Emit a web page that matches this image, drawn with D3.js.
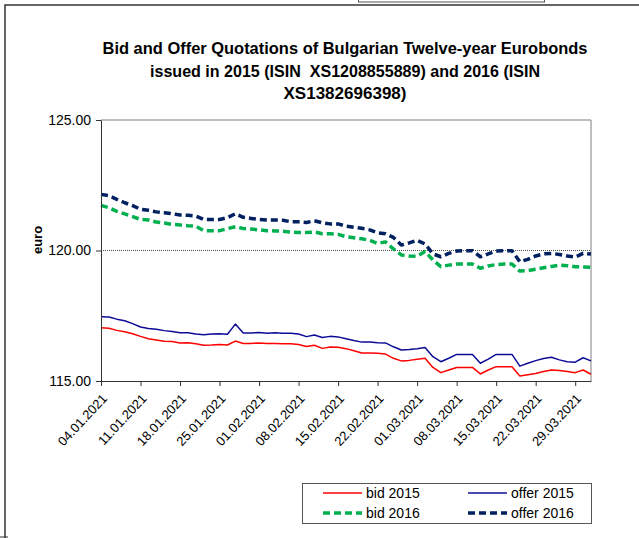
<!DOCTYPE html>
<html>
<head>
<meta charset="utf-8">
<script src="https://cdn.jsdelivr.net/npm/d3@7"></script>
<style>
  body { margin: 0; background: #fff; }
  svg { display: block; font-family: "Liberation Sans", Arial, sans-serif; }
</style>
</head>
<body>
<div id="chart"></div>
<script>
// business days, one point each
var categories = [
  '04.01.2021','05.01.2021','06.01.2021','07.01.2021','08.01.2021',
  '11.01.2021','12.01.2021','13.01.2021','14.01.2021','15.01.2021',
  '18.01.2021','19.01.2021','20.01.2021','21.01.2021','22.01.2021',
  '25.01.2021','26.01.2021','27.01.2021','28.01.2021','29.01.2021',
  '01.02.2021','02.02.2021','03.02.2021','04.02.2021','05.02.2021',
  '08.02.2021','09.02.2021','10.02.2021','11.02.2021','12.02.2021',
  '15.02.2021','16.02.2021','17.02.2021','18.02.2021','19.02.2021',
  '22.02.2021','23.02.2021','24.02.2021','25.02.2021','26.02.2021',
  '01.03.2021','02.03.2021','03.03.2021','04.03.2021','05.03.2021',
  '08.03.2021','09.03.2021','10.03.2021','11.03.2021','12.03.2021',
  '15.03.2021','16.03.2021','17.03.2021','18.03.2021','19.03.2021',
  '22.03.2021','23.03.2021','24.03.2021','25.03.2021','26.03.2021',
  '29.03.2021','30.03.2021','31.03.2021'
];
var tickLabels = ['04.01.2021','11.01.2021','18.01.2021','25.01.2021','01.02.2021','08.02.2021',
  '15.02.2021','22.02.2021','01.03.2021','08.03.2021','15.03.2021','22.03.2021','29.03.2021'];
var yTicks = [115, 120, 125];

var bid2015 = [117.04,117.02,116.94,116.89,116.81,116.71,116.62,116.57,116.52,116.51,
  116.46,116.47,116.43,116.37,116.38,116.40,116.38,116.53,116.44,116.44,
  116.46,116.44,116.44,116.43,116.43,116.40,116.32,116.37,116.25,116.30,
  116.29,116.24,116.16,116.07,116.07,116.06,116.03,115.87,115.77,115.79,
  115.83,115.87,115.52,115.32,115.42,115.52,115.52,115.52,115.27,115.42,
  115.55,115.55,115.55,115.19,115.24,115.29,115.36,115.42,115.40,115.36,
  115.32,115.42,115.26];
var offer2015 = [117.46,117.45,117.37,117.31,117.20,117.07,117.01,116.98,116.93,116.90,
  116.85,116.85,116.80,116.77,116.80,116.81,116.79,117.18,116.84,116.84,
  116.86,116.83,116.85,116.83,116.83,116.80,116.70,116.76,116.67,116.71,
  116.69,116.62,116.55,116.49,116.49,116.47,116.46,116.31,116.19,116.21,
  116.24,116.28,115.93,115.74,115.87,116.02,116.02,116.02,115.68,115.84,
  116.02,116.02,116.02,115.57,115.68,115.78,115.86,115.91,115.81,115.74,
  115.72,115.89,115.77];
var bid2016 = [121.73,121.64,121.50,121.40,121.30,121.19,121.17,121.09,121.05,121.00,
  120.98,120.95,120.93,120.76,120.76,120.76,120.84,120.91,120.84,120.82,
  120.79,120.76,120.75,120.74,120.71,120.69,120.69,120.71,120.64,120.64,
  120.62,120.53,120.49,120.45,120.39,120.27,120.33,120.06,119.83,119.79,
  119.78,119.96,119.64,119.38,119.44,119.48,119.48,119.48,119.32,119.41,
  119.46,119.48,119.48,119.21,119.23,119.28,119.34,119.39,119.44,119.42,
  119.38,119.37,119.36];
var offer2016 = [122.15,122.10,121.96,121.83,121.72,121.58,121.54,121.48,121.45,121.41,
  121.36,121.35,121.32,121.19,121.19,121.19,121.26,121.41,121.27,121.23,
  121.19,121.17,121.17,121.16,121.10,121.10,121.07,121.14,121.06,121.02,
  121.02,120.93,120.89,120.85,120.79,120.68,120.64,120.50,120.21,120.29,
  120.39,120.25,119.87,119.76,119.89,119.98,119.99,119.99,119.76,119.87,
  119.98,119.99,119.99,119.57,119.66,119.79,119.87,119.89,119.85,119.79,
  119.75,119.89,119.87];

var series = [
  { name: 'bid 2015', values: bid2015, color: '#ff0000', width: 1.5, dash: null },
  { name: 'offer 2015', values: offer2015, color: '#0c0c96', width: 1.5, dash: null },
  { name: 'bid 2016', values: bid2016, color: '#00b050', width: 3.5, dash: '7,4' },
  { name: 'offer 2016', values: offer2016, color: '#002060', width: 3.5, dash: '7,4' }
];

var W = 639, H = 538;
var plot = { left: 101, right: 591, top: 120, bottom: 381 };

var svg = d3.select('#chart').append('svg').attr('width', W).attr('height', H);
svg.append('rect').attr('width', W).attr('height', H).attr('fill', '#fff');

// outer frame pieces
svg.append('path').attr('d', 'M5,538V5H639').attr('fill', 'none').attr('stroke', '#333').attr('stroke-width', 1.5);
svg.append('path').attr('d', 'M0,537H8').attr('stroke', '#333');
svg.append('rect').attr('x', 358.5).attr('y', -5).attr('width', 186).attr('height', 7)
  .attr('fill', 'none').attr('stroke', '#555');

// title
var titleLines = [
  { t: 'Bid and Offer Quotations of Bulgarian Twelve-year Eurobonds', y: 54, len: 485 },
  { t: 'issued in 2015 (ISIN  XS1208855889) and 2016 (ISIN', y: 77, len: 390 },
  { t: 'XS1382696398)', y: 99, len: 123 }
];
svg.append('g').selectAll('text').data(titleLines).join('text')
  .attr('x', 345).attr('y', function (d) { return d.y; })
  .attr('text-anchor', 'middle').attr('font-size', 17).attr('font-weight', 'bold')
  .style('white-space', 'pre')
  .attr('textLength', function (d) { return d.len; }).attr('lengthAdjust', 'spacingAndGlyphs')
  .text(function (d) { return d.t; });

var x = d3.scalePoint().domain(categories).range([plot.left, plot.right]);
var y = d3.scaleLinear().domain([115, 125]).range([plot.bottom, plot.top]);

// plot border (top/right)
svg.append('path')
  .attr('d', 'M' + plot.left + ',' + plot.top + 'H' + plot.right + 'V' + plot.bottom)
  .attr('fill', 'none').attr('stroke', '#7f7f7f').attr('stroke-width', 1);

// dotted line at 120
svg.append('line')
  .attr('x1', plot.left).attr('x2', plot.right)
  .attr('y1', y(120)).attr('y2', y(120))
  .attr('stroke', '#222').attr('stroke-width', 0.8).attr('stroke-dasharray', '1,1');

var line = d3.line()
  .x(function (d, i) { return x(categories[i]); })
  .y(function (d) { return y(d); });

svg.append('g').selectAll('path').data(series).join('path')
  .attr('d', function (d) { return line(d.values); })
  .attr('fill', 'none')
  .attr('stroke', function (d) { return d.color; })
  .attr('stroke-width', function (d) { return d.width; })
  .attr('stroke-dasharray', function (d) { return d.dash; })
  .attr('stroke-linejoin', 'round');

// axes
var gy = svg.append('g').attr('transform', 'translate(' + plot.left + ',0)')
  .call(d3.axisLeft(y).tickValues(yTicks).tickFormat(d3.format('.2f')).tickSize(5).tickPadding(5).tickSizeOuter(0));
gy.select('.domain').attr('stroke', '#333');
gy.selectAll('line').attr('stroke', '#333');
gy.selectAll('text').attr('font-size', 14).attr('fill', '#000').attr('font-family', 'Liberation Sans, Arial, sans-serif');

var gx = svg.append('g').attr('transform', 'translate(0,' + plot.bottom + ')')
  .call(d3.axisBottom(x).tickValues(tickLabels).tickSize(5).tickSizeOuter(0));
gx.select('.domain').attr('stroke', '#333');
gx.selectAll('line').attr('stroke', '#333');
gx.selectAll('text')
  .attr('font-size', 13).attr('fill', '#000').attr('font-family', 'Liberation Sans, Arial, sans-serif')
  .attr('text-anchor', 'end')
  .attr('x', 0).attr('y', 0).attr('dy', '0.35em')
  .attr('transform', 'translate(3,15) rotate(-47)');

svg.append('text')
  .attr('transform', 'translate(42,240) rotate(-90)')
  .attr('text-anchor', 'middle').attr('font-size', 13).attr('font-weight', 'bold')
  .text('euro');

// legend
var legend = svg.append('g');
legend.append('rect').attr('x', 302.5).attr('y', 483.5).attr('width', 289).attr('height', 40)
  .attr('fill', '#fff').attr('stroke', '#555');
var legPos = [
  { lx: 323, ly: 493 }, { lx: 468, ly: 493 },
  { lx: 323, ly: 513 }, { lx: 468, ly: 513 }
];
var items = legend.selectAll('g').data(series).join('g')
  .attr('transform', function (d, i) { return 'translate(' + legPos[i].lx + ',' + legPos[i].ly + ')'; });
items.append('line').attr('x1', 0).attr('x2', 39).attr('y1', 0).attr('y2', 0)
  .attr('stroke', function (d) { return d.color; })
  .attr('stroke-width', function (d) { return d.width; })
  .attr('stroke-dasharray', function (d) { return d.dash; });
items.append('text').attr('x', 43).attr('y', 5).attr('font-size', 14)
  .text(function (d) { return d.name; });
</script>
</body>
</html>
